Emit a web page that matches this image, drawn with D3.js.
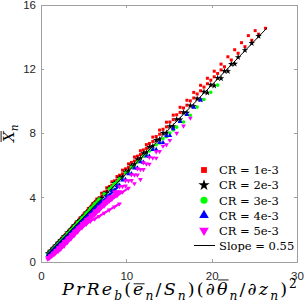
<!DOCTYPE html>
<html lang="en">
<head>
<meta charset="UTF-8">
<title>Xn vs PrRe scaling</title>
<style>
  body { margin: 0; background: #fff; }
  .axis text { font-family: Arial, "Liberation Sans", sans-serif; font-size: 11.5px; fill: #262626; }
  .axis path, .axis line { stroke: #a0a0a0; shape-rendering: crispEdges; }
  .math { font-family: "DejaVu Serif", "Liberation Serif", serif; fill: #000; }
</style>
<script src="https://cdn.jsdelivr.net/npm/d3@7"></script>
</head>
<body>
<script>
// x sampling used by the curves (two staggered sets)
var xA = [0.8,1.1,1.4,1.7,2.0,2.3,2.7,3.1,3.5,3.9,4.3,4.8,5.3,5.8,6.3,6.8,7.4,8.0,8.6,9.2,9.9,10.6,11.3,12.0,12.7,13.5,14.3,15.1,15.9,16.7,17.5,18.3,19.1,19.9,20.7,21.5,22.3,23.1,23.9,24.7,25.5,26.3];
var xB = [0.95,1.25,1.55,1.85,2.15,2.5,2.9,3.3,3.7,4.1,4.55,5.05,5.55,6.05,6.55,7.1,7.7,8.3,8.9,9.55,10.25,10.95,11.65,12.35,13.1,13.9,14.7,15.5,16.3,17.1,17.9,18.7,19.5,20.3,21.1,21.9,22.7,23.5,24.3,25.1,25.9];

// CR = 1e-3
var cr1 = [
  {x: xB, y: [0.57,0.74,0.91,1.08,1.25,1.48,1.70,1.93,2.19,2.42,2.70,2.98,3.30,3.60,3.90,4.26,4.60,4.97,5.30,5.70,6.09,6.52,6.91,7.29,7.76,8.20,8.69,9.13,9.62,10.06,10.55,10.99,11.43,11.87,12.31,12.77,13.21,13.65,14.09,14.40]},
  {x: xA, y: [0.48,0.65,0.82,0.99,1.16,1.33,1.56,1.79,2.02,2.25,2.48,2.77,3.06,3.36,3.66,3.97,4.33,4.68,5.03,5.38,5.78,6.18,6.57,6.96,7.36,7.80,8.25,8.70,9.15,9.58,10.02,10.45,10.88,11.31,11.73,12.15,12.57,12.99,13.40,13.80,14.18,14.55]},
  {x: xB, y: [0.55,0.71,0.88,1.04,1.21,1.41,1.63,1.86,2.09,2.31,2.57,2.86,3.14,3.43,3.72,4.04,4.39,4.74,5.09,5.47,5.87,6.27,6.67,7.06,7.49,7.94,8.40,8.85,9.30,9.75,10.20,10.65,11.09,11.52,11.95]}
];
// CR = 2e-3
var cr2 = [
  {x: xA, y: [0.50,0.66,0.83,1.00,1.17,1.34,1.57,1.80,2.03,2.26,2.49,2.78,3.06,3.34,3.62,3.90,4.23,4.56,4.89,5.22,5.60,5.98,6.37,6.75,7.14,7.57,8.01,8.44,8.87,9.30,9.73,10.16,10.59,11.02,11.45,11.88,12.31,12.74,13.18,13.62,14.06]},
  {x: xB, y: [0.52,0.69,0.85,1.02,1.18,1.38,1.60,1.82,2.04,2.26,2.51,2.79,3.07,3.36,3.64,3.95,4.29,4.62,4.95,5.30,5.68,6.06,6.44,6.81,7.20,7.62,8.03,8.44,8.85,9.27,9.68,10.10,10.53,10.97,11.42,11.87,12.33]}
];
// CR = 3e-3
var cr3 = [
  {x: xA, y: [0.44,0.60,0.77,0.94,1.11,1.28,1.51,1.74,1.97,2.20,2.43,2.72,3.02,3.32,3.62,3.90,4.22,4.54,4.85,5.16,5.52,5.87,6.21,6.56,6.90,7.28,7.66,8.02,8.38,8.70,9.12,9.63,10.10,10.55,11.00]},
  {x: xB, y: [0.50,0.66,0.83,0.99,1.15,1.35,1.57,1.79,2.01,2.23,2.47,2.74,3.01,3.28,3.55,3.85,4.17,4.49,4.81,5.15,5.52,5.89,6.25,6.61,6.99,7.39,7.79,8.20]}
];
// CR = 4e-3
var cr4 = [
  {x: xB, y: [0.47,0.63,0.79,0.95,1.11,1.30,1.51,1.72,1.93,2.15,2.39,2.66,2.93,3.20,3.47,3.77,4.09,4.41,4.73,5.08,5.46,5.83,6.21,6.58,6.98,7.41,7.84,8.28,8.72,9.17,9.62,10.07]},
  {x: xA, y: [0.38,0.53,0.69,0.85,1.00,1.16,1.37,1.58,1.79,2.00,2.21,2.47,2.73,2.99,3.25,3.51,3.82,4.13,4.44,4.75,5.11,5.47,5.83,6.19,6.56,6.98,7.41,7.85]}
];
// CR = 5e-3
var cr5 = [
  {x: xA, y: [0.25,0.38,0.53,0.70,0.86,1.03,1.25,1.47,1.69,1.90,2.11,2.37,2.63,2.89,3.15,3.41,3.72,4.03,4.35,4.67,5.04,5.42,5.79,6.16,6.50,6.85,7.20,7.56,8.00,8.46,8.95]},
  {x: xB, y: [0.22,0.36,0.51,0.67,0.83,1.02,1.23,1.45,1.66,1.87,2.11,2.37,2.63,2.89,3.15,3.44,3.75,4.06,4.36,4.68,5.04,5.40,5.74,6.09,6.46,6.87,7.29]},
  {x: xA, y: [0.18,0.31,0.45,0.60,0.75,0.90,1.10,1.30,1.50,1.70,1.90,2.15,2.40,2.65,2.91,3.16,3.46,3.76,4.06,4.36,4.71,5.06,5.40,5.74,6.08,6.45]},
  {x: xB, y: [0.20,0.33,0.46,0.60,0.74,0.93,1.16,1.40,1.65,1.92,2.20,2.45,2.70,2.95,3.17,3.40,3.63,3.87,4.10,4.33,4.58,4.86,5.12]},
  {x: xA, y: [0.15,0.28,0.40,0.52,0.63,0.76,0.96,1.18,1.40,1.62,1.84,2.10,2.32,2.52,2.66,2.82,3.02,3.22,3.41,3.60]}
];

// fitted line, slope 0.55
var fitLine = [[0.8, 0.44], [26.5, 14.575]];

var xTicks = [0, 10, 20, 30];
var yTicks = [0, 4, 8, 12, 16];

var series = [
  {label: 'CR = 1e-3', color: '#ff0000', symbol: d3.symbolSquare, size: 9, legSize: 34, rot: 0, curves: cr1},
  {label: 'CR = 2e-3', color: '#000000', symbol: d3.symbolStar, size: 13, legSize: 40, rot: 0, curves: cr2},
  {label: 'CR = 3e-3', color: '#00ff00', symbol: d3.symbolCircle, size: 10, legSize: 40, rot: 0, curves: cr3},
  {label: 'CR = 4e-3', color: '#0000ff', symbol: d3.symbolTriangle, size: 10, legSize: 40, rot: 0, curves: cr4},
  {label: 'CR = 5e-3', color: '#ff00ff', symbol: d3.symbolTriangle, size: 10, legSize: 40, rot: 180, curves: cr5}
];

var W = 304, H = 305;
var plot = {left: 41, right: 297, top: 5, bottom: 261.5};

var svg = d3.select('body').append('svg')
  .attr('width', W).attr('height', H);

var xScale = d3.scaleLinear().domain([0, 30]).range([plot.left, plot.right]);
var yScale = d3.scaleLinear().domain([0, 16]).range([plot.bottom, plot.top]);

// box + ticks on all sides, pointing inward
svg.append('g').attr('class', 'axis')
  .attr('transform', 'translate(0,' + plot.bottom + ')')
  .call(d3.axisBottom(xScale).tickValues(xTicks).tickSizeInner(-3).tickSizeOuter(0).tickPadding(10));
svg.append('g').attr('class', 'axis')
  .attr('transform', 'translate(0,' + plot.top + ')')
  .call(d3.axisTop(xScale).tickValues(xTicks).tickSizeInner(-3).tickSizeOuter(0).tickFormat(''));
svg.append('g').attr('class', 'axis')
  .attr('transform', 'translate(' + plot.left + ',0)')
  .call(d3.axisLeft(yScale).tickValues(yTicks).tickSizeInner(-3).tickSizeOuter(0).tickPadding(5));
svg.append('g').attr('class', 'axis')
  .attr('transform', 'translate(' + plot.right + ',0)')
  .call(d3.axisRight(yScale).tickValues(yTicks).tickSizeInner(-3).tickSizeOuter(0).tickFormat(''));
svg.selectAll('.axis text').attr('fill', '#262626');

// markers; where consecutive samples sit close together they merge into a band
series.forEach(function(s) {
  var sym = d3.symbol().type(s.symbol).size(s.size);
  var pts = [], segs = [];
  s.curves.forEach(function(c) {
    c.y.forEach(function(v, i) {
      pts.push([c.x[i], v]);
      if (i > 0) {
        var dx = xScale(c.x[i]) - xScale(c.x[i - 1]);
        var dy = yScale(v) - yScale(c.y[i - 1]);
        if (Math.sqrt(dx * dx + dy * dy) < 7.2) segs.push([[c.x[i - 1], c.y[i - 1]], [c.x[i], v]]);
      }
    });
  });
  var g = svg.append('g');
  g.selectAll('line')
    .data(segs)
    .enter().append('line')
    .attr('x1', function(d) { return xScale(d[0][0]); })
    .attr('y1', function(d) { return yScale(d[0][1]); })
    .attr('x2', function(d) { return xScale(d[1][0]); })
    .attr('y2', function(d) { return yScale(d[1][1]); })
    .attr('stroke', s.color)
    .attr('stroke-width', 2.2);
  g.selectAll('path')
    .data(pts)
    .enter().append('path')
    .attr('d', sym)
    .attr('fill', s.color)
    .attr('transform', function(d) {
      return 'translate(' + xScale(d[0]) + ',' + yScale(d[1]) + ') rotate(' + s.rot + ')';
    });
});

// fit line
svg.append('path')
  .datum(fitLine)
  .attr('fill', 'none')
  .attr('stroke', '#000')
  .attr('stroke-width', 1)
  .attr('d', d3.line().x(function(d) { return xScale(d[0]); }).y(function(d) { return yScale(d[1]); }));

// legend
var leg = svg.append('g').attr('transform', 'translate(204,170)');
series.forEach(function(s, i) {
  var row = leg.append('g').attr('transform', 'translate(0,' + (i * 15.1) + ')');
  row.append('path')
    .attr('d', d3.symbol().type(s.symbol).size(s.legSize))
    .attr('fill', s.color)
    .attr('transform', 'rotate(' + s.rot + ')');
  row.append('text').attr('class', 'math')
    .attr('x', 15).attr('y', 4.3)
    .style('font-size', '11.5px')
    .text(s.label);
});
var lastRow = leg.append('g').attr('transform', 'translate(0,' + (5 * 15.1) + ')');
lastRow.append('line').attr('x1', -10).attr('x2', 11).attr('y1', 0).attr('y2', 0)
  .attr('stroke', '#000').attr('stroke-width', 1);
lastRow.append('text').attr('class', 'math')
  .attr('x', 15).attr('y', 4.3)
  .style('font-size', '11.5px')
  .text('Slope = 0.55');

// math-style label built from tspans, overlines drawn from measured boxes
function mathText(g, parts, size, targetWidth) {
  var text = g.append('text').attr('class', 'math').style('font-size', size + 'px');
  var shift = 0, nChars = 0;
  parts.forEach(function(p) {
    var target = p.sub ? size * 0.28 : (p.sup ? -size * 0.4 : 0);
    var small = p.sub || p.sup;
    p.node = text.append('tspan')
      .attr('dy', target - shift)
      .style('font-style', p.it ? 'italic' : 'normal')
      .style('font-size', (small ? size * 0.7 : size) + 'px')
      .text(p.t).node();
    shift = target;
    nChars += p.t.length;
  });
  if (targetWidth) {
    var w = text.node().getComputedTextLength();
    text.style('letter-spacing', ((targetWidth - w) / nChars) + 'px');
  }
  parts.forEach(function(p) {
    if (!p.over) return;
    var b = p.node.getBBox();
    g.append('line')
      .attr('x1', b.x + p.over[1]).attr('x2', b.x + b.width + p.over[2])
      .attr('y1', -size * p.over[0]).attr('y2', -size * p.over[0])
      .attr('stroke', '#000').attr('stroke-width', 0.9);
  });
  return text;
}

var xLabel = svg.append('g').attr('transform', 'translate(62,295)');
mathText(xLabel, [
  {t: 'Pr', it: true}, {t: 'Re', it: true}, {t: 'b', it: true, sub: true},
  {t: '('}, {t: 'e', it: true, over: [0.64, 0.5, -1]}, {t: 'n', it: true, sub: true},
  {t: '/'}, {t: 'S', it: true}, {t: 'n', it: true, sub: true}, {t: ')('},
  {t: '\u2202'}, {t: '\u03b8', it: true, over: [0.86, 1, -1]}, {t: 'n', it: true, sub: true},
  {t: '/\u2202'}, {t: 'z', it: true}, {t: 'n', it: true, sub: true}, {t: ')'},
  {t: '2', sup: true}
], 17.5, 237);

var yLabel = svg.append('g').attr('transform', 'translate(14,142) rotate(-90)');
mathText(yLabel, [
  {t: 'X', it: true, over: [0.86, 1, -1]}, {t: 'n', it: true, sub: true}
], 15);
</script>
</body>
</html>
